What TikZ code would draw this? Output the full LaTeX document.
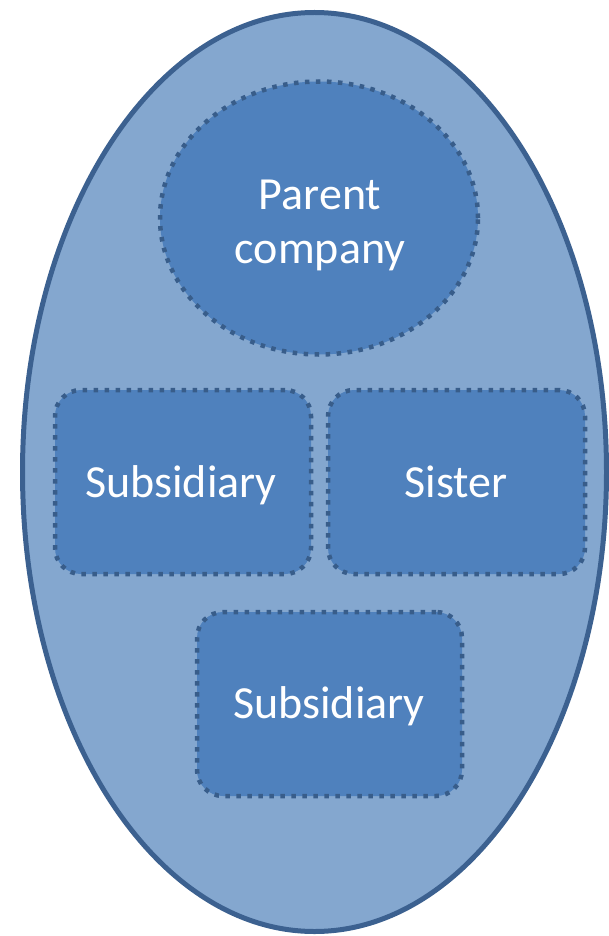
\documentclass[tikz,border=0pt]{standalone}
\usepackage{fontspec}
\setmainfont{Carlito}
\usetikzlibrary{shapes.geometric}
\definecolor{outerfill}{HTML}{84A7CF}
\definecolor{outerline}{HTML}{3C6190}
\definecolor{innerfill}{HTML}{4F81BD}
\definecolor{dotline}{HTML}{385D8A}
\tikzset{
  outerbox/.style={ellipse, draw=outerline, fill=outerfill, line width=5pt, inner sep=0pt},
  innerbox/.style={draw=dotline, fill=innerfill, line width=4.5pt,
    dash pattern=on 4.5pt off 6.5pt, inner sep=0pt},
  ovalbox/.style={innerbox, ellipse},
  rectbox/.style={innerbox, rectangle, rounded corners=26pt},
  label text/.style={text=white, inner sep=0pt, anchor=base,
    font=\fontsize{46}{54}\selectfont, align=center}
}
\begin{document}
\begin{tikzpicture}[x=1pt,y=-1pt]
\useasboundingbox (0,0) rectangle (609,936);
\node[outerbox, minimum width=584pt, minimum height=919pt] (outer) at (314.5,472) {};
\node[ovalbox, minimum width=318pt, minimum height=273pt] (parent) at (319,218) {};
\node[rectbox, minimum width=256pt, minimum height=184pt] (sub1) at (183,482) {};
\node[rectbox, minimum width=257pt, minimum height=184pt] (sister) at (456.5,482) {};
\node[rectbox, minimum width=265pt, minimum height=184pt] (sub2) at (329.5,704) {};
\node[label text] (parenttext) at (320,263) {Parent\\company};
\node[label text] (sub1text) at (181,497) {Subsidiary};
\node[label text] (sistertext) at (456,497) {Sister};
\node[label text] (sub2text) at (329,718) {Subsidiary};
\end{tikzpicture}
\end{document}
